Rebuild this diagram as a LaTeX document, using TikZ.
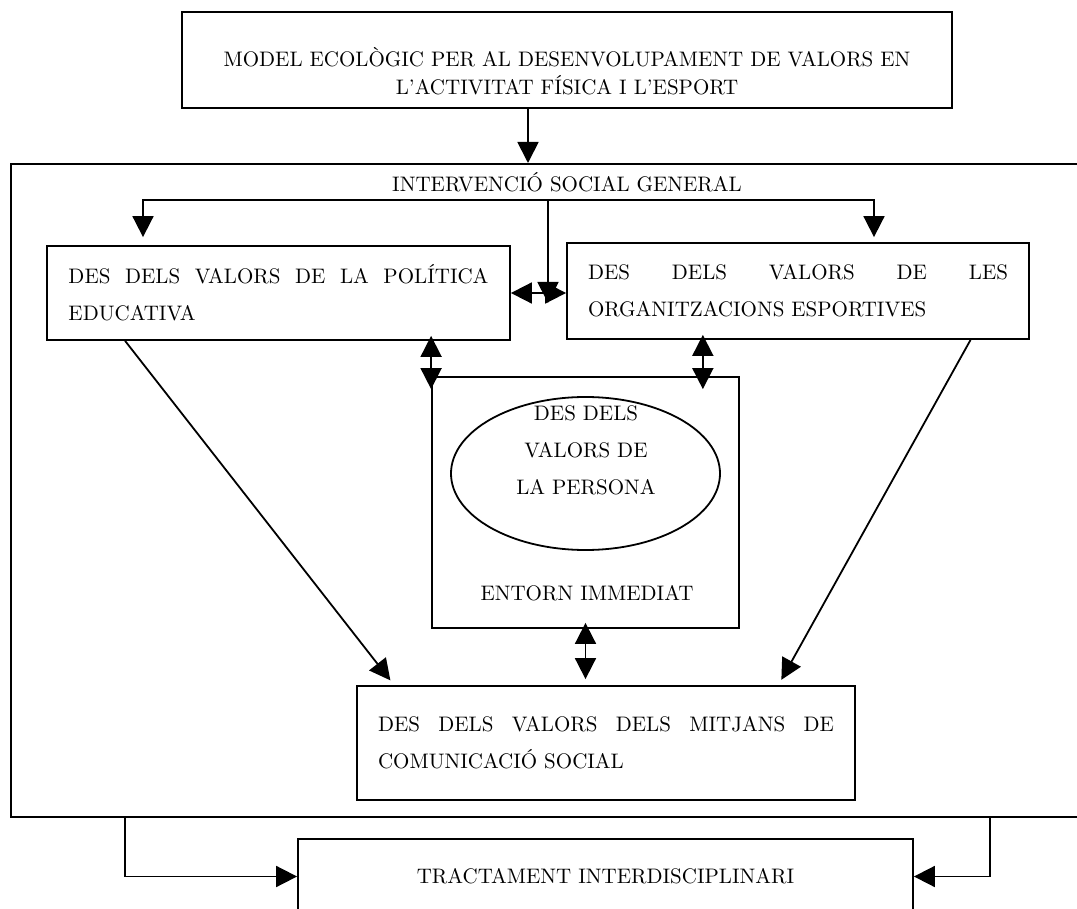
\documentclass[tikz,border=0pt]{standalone}
\usepackage{fontspec}
\usetikzlibrary{arrows.meta,shapes.geometric,calc}
\tikzset{
    >={Triangle[length=10.5pt,width=10.5pt]},
    box/.style={draw, line width=0.9pt, inner sep=0pt},
    conn/.style={line width=0.9pt},
    overlap/.style={conn, <->, shorten <=-2.5pt, shorten >=-6.5pt},
    spread/.style={box, text width=#1, align=left},
    wide/.style={font=\fontsize{10.5}{18.5}\selectfont},
    narrow/.style={font=\fontsize{10.5}{14}\selectfont}
}

\begin{document}
\begin{tikzpicture}[x=0.5pt, y=-0.5pt, wide]
    \clip (0,0) rectangle (1077,909);
    %model
    \node[box, minimum width=385pt, minimum height=48pt] (model) at (567,60) {};
    \node[narrow, align=center] (modeltxt) at (567,71) {MODEL ECOLÒGIC PER AL DESENVOLUPAMENT DE VALORS EN\\L’ACTIVITAT FÍSICA I L’ESPORT};
    %intervencio social general
    \node[box, anchor=north west, minimum width=540pt, minimum height=326.5pt] (social) at (10,163) {};
    \node (intv) at (567,182) {INTERVENCIÓ SOCIAL GENERAL};
    \node[spread=210pt, minimum width=231.5pt, minimum height=47pt] (educ) at (278.5,293) {DES\hfill DELS\hfill VALORS\hfill DE\hfill LA\hfill POLÍTICA\\EDUCATIVA};
    \node[spread=210pt, minimum width=231pt, minimum height=48pt] (org) at (798,291) {DES\hfill DELS\hfill VALORS\hfill DE\hfill LES\\ORGANITZACIONS ESPORTIVES};
    \node[box, minimum width=153.5pt, minimum height=125.5pt] (entorn) at (585.5,502.5) {};
    \node[box, ellipse, minimum width=134.5pt, minimum height=76.5pt] (persona) at (585.5,473.5) {};
    \node[align=center] (personatxt) at (586,450) {DES DELS\\VALORS DE\\LA PERSONA};
    \node (entorntxt) at (587,593) {ENTORN IMMEDIAT};
    \node[spread=228pt, minimum width=249pt, minimum height=57pt] (mitjans) at (606,743) {DES\hfill DELS\hfill VALORS\hfill DELS\hfill MITJANS\hfill DE\\COMUNICACIÓ SOCIAL};
    %tractament
    \node[box, minimum width=307.5pt, minimum height=37.5pt] (tract) at (605.5,876.5) {TRACTAMENT INTERDISCIPLINARI};
    %connectors
    \coordinate (drop) at (528,0);
    \coordinate (barl) at (143,200);
    \coordinate (barr) at (874,200);
    \coordinate (mid) at (548,200);
    \coordinate (lx) at (125,0);
    \coordinate (rx) at (990,0);
    \coordinate (rv) at ($(entorn.north west)!0.88!(entorn.north east)$);
    \draw[conn, ->] (drop |- model.south) -- (drop |- social.north);
    \draw[conn, <->, shorten <=4pt, shorten >=2.5pt] (barl |- educ.north) -- (barl) -- (barr) -- (barr |- org.north);
    \draw[conn, ->] (mid) -- ($(mid |- educ.east)+(0,10)$);
    \draw[conn, <->] (educ.east) -- (educ.east -| org.west);
    \draw[overlap] (entorn.north west |- educ.south) -- (entorn.north west);
    \draw[overlap] (rv |- org.south) -- (rv);
    \draw[conn, ->, shorten >=3pt] ($(educ.south west)!0.17!(educ.south east)$) -- ($(mitjans.north west)!0.076!(mitjans.north east)$);
    \draw[conn, ->, shorten >=3pt] ($(org.south west)!0.872!(org.south east)$) -- ($(mitjans.north west)!0.845!(mitjans.north east)$);
    \draw[conn, <->, shorten <=-3pt, shorten >=3pt] (entorn.south) -- (entorn.south |- mitjans.north);
    \draw[conn, ->] (lx |- social.south) |- (tract.west);
    \draw[conn, ->] (rx |- social.south) |- (tract.east);
\end{tikzpicture}
\end{document}
